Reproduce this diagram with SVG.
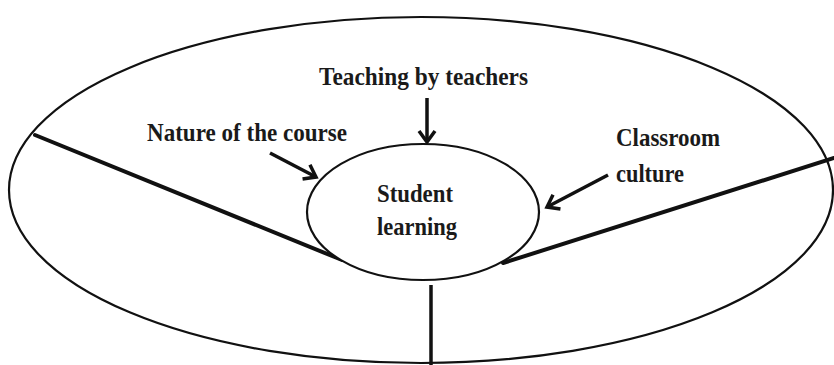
<svg xmlns="http://www.w3.org/2000/svg" width="834" height="365" viewBox="0 0 834 365">
<style>
.bg{fill:#fff}
.ell{fill:none;stroke:#111;stroke-width:2.2}
.inner{fill:#fff;stroke:#111;stroke-width:2.2}
.div{stroke:#111;stroke-width:4;fill:none;stroke-linecap:round}
.vert{stroke:#111;stroke-width:3.5;fill:none}
.arr{stroke:#111;stroke-width:3.5;fill:none;marker-end:url(#head)}
.t{font-family:"Liberation Serif","Times New Roman",serif;font-weight:bold;font-size:26px;fill:#1a1a1a}
</style>
<defs>
<marker id="head" markerUnits="userSpaceOnUse" viewBox="0 0 16 20" markerWidth="16" markerHeight="20" refX="13" refY="10" orient="auto">
<path d="M2,2 L13,10 L2,18" fill="none" stroke="#111" stroke-width="3.5" stroke-linejoin="miter"/>
</marker>
</defs>
<rect class="bg" x="0" y="0" width="834" height="365"/>
<g id="context">
<ellipse class="ell" cx="421" cy="190" rx="412" ry="173"/>
</g>
<g id="connectors">
<line class="div" x1="35" y1="135" x2="342" y2="260"/>
<line class="div" x1="503" y1="263" x2="834" y2="158"/>
<line class="vert" x1="431" y1="285" x2="431" y2="365"/>
<line class="arr" x1="427" y1="98" x2="427" y2="142"/>
<line class="arr" x1="270" y1="153" x2="316" y2="177"/>
<line class="arr" x1="608" y1="175" x2="547" y2="207"/>
</g>
<g id="student-learning">
<ellipse class="inner" cx="423" cy="212" rx="116" ry="68"/>
<text class="t" x="377" y="202" textLength="76" lengthAdjust="spacingAndGlyphs">Student</text>
<text class="t" x="377" y="235" textLength="80" lengthAdjust="spacingAndGlyphs">learning</text>
</g>
<g id="teaching-by-teachers">
<text class="t" x="319" y="85" textLength="209" lengthAdjust="spacingAndGlyphs">Teaching by teachers</text>
</g>
<g id="nature-of-the-course">
<text class="t" x="147" y="141" textLength="200" lengthAdjust="spacingAndGlyphs">Nature of the course</text>
</g>
<g id="classroom-culture">
<text class="t" x="616" y="146" textLength="104" lengthAdjust="spacingAndGlyphs">Classroom</text>
<text class="t" x="616" y="182" textLength="68" lengthAdjust="spacingAndGlyphs">culture</text>
</g>
</svg>
